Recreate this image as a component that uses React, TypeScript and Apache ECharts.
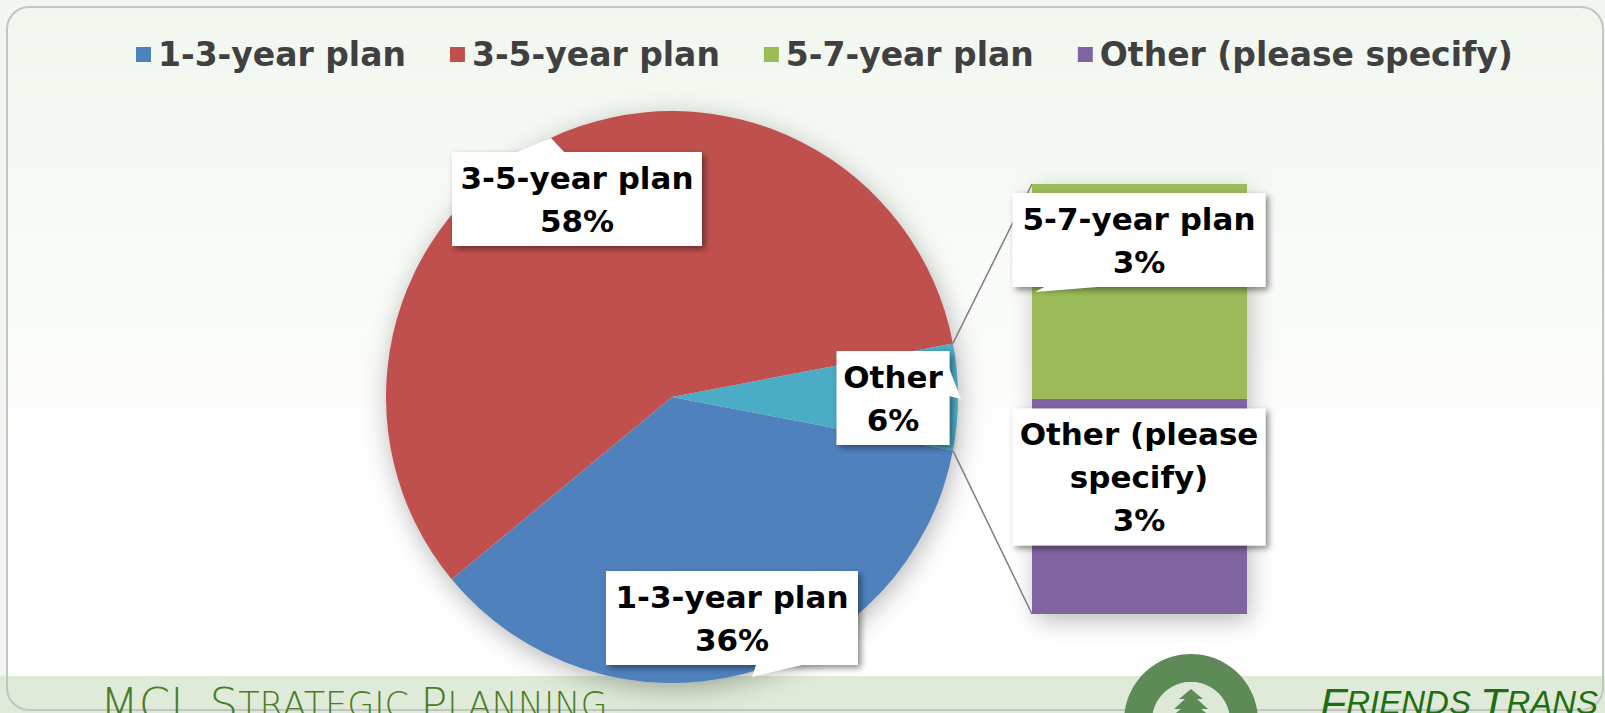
import React, { useEffect, useRef } from 'react';
import * as echarts from 'echarts';

// ---- data ----
const pieNames = ['Other', '1-3-year plan', '3-5-year plan'];
const pieValues = [6, 36, 58];
const barNames = ['Other (please specify)', '5-7-year plan'];
const barValues = [3, 3];
const barCategory = ['Other'];
const legendNames = ['1-3-year plan', '3-5-year plan', '5-7-year plan', 'Other (please specify)'];

const colorOf: Record<string, string> = {
  '1-3-year plan': '#4f81bd',
  '3-5-year plan': '#c0504d',
  Other: '#4bacc6',
  '5-7-year plan': '#9bbb59',
  'Other (please specify)': '#8064a2',
};

// ---- layout ----
const W = 1605;
const H = 713;
const PIE_C = [672, 397];
const PIE_R = 286;
const GRID = { left: 1032, top: 184, width: 215, height: 430 };
const pieLabelPos = [[893, 398], [732, 618], [577, 199]];
const pieLabelWidth = [93, 232, 230];
const barLabelPos = [[1139, 477], [1139, 240]];
const FONT = '"DejaVu Sans", "Noto Sans", sans-serif';

const labelBox = {
  fontFamily: FONT,
  fontSize: 31,
  fontWeight: 'bold' as const,
  lineHeight: 43,
  color: '#000',
  backgroundColor: '#ffffff',
  padding: [4, 10],
  align: 'center' as const,
  overflow: 'none' as const,
  shadowColor: 'rgba(0,0,0,0.45)',
  shadowBlur: 6,
  shadowOffsetX: 3,
  shadowOffsetY: 3,
};

export default function App() {
  const ref = useRef<HTMLDivElement>(null);
  useEffect(() => {
    document.body.style.margin = '0';
    const chart = echarts.init(ref.current!, null, { renderer: 'svg' });
    const total = pieValues.reduce((a, b) => a + b, 0);
    const otherIdx = pieNames.indexOf('Other');
    const halfAngle = (pieValues[otherIdx] / total) * 180;
    const barTotal = barValues.reduce((a, b) => a + b, 0);

    const option: any = {
      animation: false,
      backgroundColor: '#f2f6f0',
      legend: {
        data: legendNames,
        left: 131,
        top: 33,
        icon: 'rect',
        itemWidth: 15,
        itemHeight: 15,
        itemGap: 44,
        textStyle: { fontFamily: FONT, fontSize: 33, fontWeight: 'bold', color: '#404040', padding: [0, 0, 0, 2] },
        selectedMode: false,
      },
      grid: { left: GRID.left, top: GRID.top, width: GRID.width, height: GRID.height, containLabel: false },
      xAxis: { type: 'category', data: barCategory, show: false },
      yAxis: { type: 'value', min: 0, max: barTotal, show: false },
      series: [
        {
          type: 'pie',
          name: 'plans',
          center: PIE_C,
          radius: PIE_R,
          startAngle: halfAngle,
          clockwise: true,
          avoidLabelOverlap: false,
          percentPrecision: 0,
          z: 3,
          data: pieNames.map((n, i) => ({
            name: n,
            value: pieValues[i],
            itemStyle: { color: colorOf[n] },
            label: { width: pieLabelWidth[i] },
          })),
          itemStyle: { borderWidth: 0 },
          label: {
            show: true,
            position: 'inside',
            formatter: '{b}\n{d}%',
            ...labelBox,
          },
          labelLine: { show: false },
          labelLayout: (p: any) => {
            const pos = pieLabelPos[p.dataIndex];
            return { x: pos[0], y: pos[1], align: 'center', verticalAlign: 'middle' };
          },
          emphasis: { disabled: true },
        },
        ...barNames.map((n, i) => ({
          type: 'bar',
          name: n,
          stack: 'other',
          barWidth: '100%',
          z: 3,
          data: [barValues[i]],
          itemStyle: { color: colorOf[n] },
          label: {
            show: true,
            position: 'inside',
            width: 233,
            formatter: (p: any) => p.seriesName.replace('(please ', '(please\n') + '\n' + p.value + '%',
            ...labelBox,
          },
          labelLayout: () => ({ x: barLabelPos[i][0], y: barLabelPos[i][1], align: 'center', verticalAlign: 'middle' }),
          emphasis: { disabled: true },
        })),
      ],
      graphic: {
        elements: [
          {
            id: 'frameFill', type: 'rect', z: 0, silent: true,
            shape: { x: 7, y: 7, width: 1596, height: 703, r: 22 },
            style: {
              fill: new echarts.graphic.LinearGradient(0, 0, 0, 1, [
                { offset: 0, color: '#f1f7ef' },
                { offset: 0.7, color: '#ffffff' },
                { offset: 1, color: '#ffffff' },
              ]),
            },
          },
          {
            id: 'band', type: 'rect', z: 0, silent: true,
            shape: { x: 0, y: 676, width: W, height: H - 676 },
            style: { fill: '#dfebd8' },
          },
          {
            id: 'frameStroke', type: 'rect', z: 0, silent: true,
            shape: { x: 7, y: 7, width: 1596, height: 703, r: 22 },
            style: { fill: 'none', stroke: '#c4c4c4', lineWidth: 2 },
          },
          {
            id: 'pieShadow', type: 'circle', z: 1, silent: true,
            shape: { cx: PIE_C[0], cy: PIE_C[1], r: PIE_R - 2 },
            style: { fill: '#ffffff', shadowBlur: 28, shadowColor: 'rgba(0,0,0,0.32)', shadowOffsetX: 2, shadowOffsetY: 6 },
          },
          {
            id: 'barShadow', type: 'rect', z: 1, silent: true,
            shape: { x: GRID.left + 1, y: GRID.top + 1, width: GRID.width - 2, height: GRID.height - 2 },
            style: { fill: '#ffffff', shadowBlur: 24, shadowColor: 'rgba(0,0,0,0.28)', shadowOffsetX: 3, shadowOffsetY: 7 },
          },
          // label callout tails
          { id: 't1', type: 'polygon', z: 100, silent: true, shape: { points: [[512, 154], [551, 138], [566, 154]] }, style: { fill: '#fff' } },
          { id: 't2', type: 'polygon', z: 100, silent: true, shape: { points: [[949, 368], [961, 399], [949, 396]] }, style: { fill: '#fff' } },
          { id: 't3', type: 'polygon', z: 100, silent: true, shape: { points: [[815, 662], [757, 662], [752, 677]] }, style: { fill: '#fff' } },
          { id: 't4', type: 'polygon', z: 100, silent: true, shape: { points: [[1110, 286], [1046, 286], [1035, 292]] }, style: { fill: '#fff' } },
          // footer
          {
            id: 'footL', type: 'text', z: 5, silent: true, left: 100, top: 682,
            style: {
              text: '{b|MCL S}{s|TRATEGIC }{b|P}{s|LANNING}',
              fill: '#4a7d2b',
              rich: {
                b: { fontFamily: FONT, fontSize: 45, fontWeight: 200, fill: '#4a7d2b', color: '#4a7d2b' },
                s: { fontFamily: FONT, fontSize: 35, fontWeight: 200, fill: '#4a7d2b', color: '#4a7d2b' },
              },
            },
          },
          {
            id: 'logoRing', type: 'ring', z: 5, silent: true,
            shape: { cx: 1191, cy: 721, r: 67, r0: 39 },
            style: { fill: '#5d8a57' },
          },
          {
            id: 'logoIn', type: 'circle', z: 5, silent: true,
            shape: { cx: 1191, cy: 721, r: 39 },
            style: { fill: '#dde9d6' },
          },
          {
            id: 'logoTree', type: 'polygon', z: 6, silent: true,
            shape: { points: [[1191, 689], [1203, 699], [1197, 699], [1208, 709], [1201, 709], [1210, 716], [1172, 716], [1181, 709], [1174, 709], [1185, 699], [1179, 699]] },
            style: { fill: '#5d8a57' },
          },
          {
            id: 'footR', type: 'text', z: 5, silent: true, left: 1320, top: 681,
            style: {
              text: '{b|F}{s|RIENDS }{b|T}{s|RANS}',
              rich: {
                b: { fontFamily: '"Liberation Sans", Arial, sans-serif', fontStyle: 'italic', fontSize: 43, fill: '#1f6e12', color: '#1f6e12' },
                s: { fontFamily: '"Liberation Sans", Arial, sans-serif', fontStyle: 'italic', fontSize: 33, fill: '#1f6e12', color: '#1f6e12' },
              },
            },
          },
        ],
      },
    };
    chart.setOption(option);

    // connector lines from the "Other" slice edges to the bar's corners
    const yTop = chart.convertToPixel({ yAxisIndex: 0 }, barTotal) as number;
    const yBot = chart.convertToPixel({ yAxisIndex: 0 }, 0) as number;
    const xMid = chart.convertToPixel({ xAxisIndex: 0 }, barCategory[0]) as number;
    const xLeft = xMid - GRID.width / 2;
    const a = (halfAngle * Math.PI) / 180;
    const ex = PIE_C[0] + PIE_R * Math.cos(a);
    const eyTop = PIE_C[1] - PIE_R * Math.sin(a);
    const eyBot = PIE_C[1] + PIE_R * Math.sin(a);
    chart.setOption({
      graphic: {
        elements: [
          { id: 'conn1', type: 'line', z: 2, silent: true, shape: { x1: ex, y1: eyTop, x2: xLeft, y2: yTop }, style: { stroke: '#7f7f7f', lineWidth: 1.5 } },
          { id: 'conn2', type: 'line', z: 2, silent: true, shape: { x1: ex, y1: eyBot, x2: xLeft, y2: yBot }, style: { stroke: '#7f7f7f', lineWidth: 1.5 } },
        ],
      },
    });

    return () => chart.dispose();
  }, []);
  return <div ref={ref} style={{ width: W, height: H }} />;
}
